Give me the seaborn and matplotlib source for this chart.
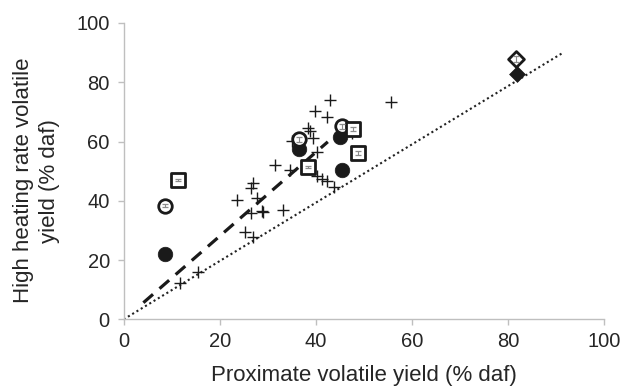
import matplotlib
matplotlib.use("Agg")
import matplotlib.pyplot as plt
import seaborn as sns
import pandas as pd

# ---- data ----
cross_x = [11.7, 15.5, 25.3, 27.0, 23.5, 27.7, 26.6, 27.0, 26.6, 28.7, 29.1, 33.2,
           31.5, 34.6, 35.0, 40.2, 39.5, 38.4, 38.8, 39.8, 42.3, 43.0, 40.3, 41.3,
           42.3, 43.8, 55.6, 47.5]
cross_y = [12.2, 16.1, 29.3, 27.9, 40.1, 41.0, 44.3, 46.0, 35.8, 36.7, 36.1, 37.0,
           52.1, 50.3, 60.3, 56.3, 61.1, 64.5, 63.4, 70.2, 68.3, 74.1, 48.3, 47.5,
           46.8, 44.8, 73.2, 63.0]

fcirc_x = [8.7, 36.5, 45.0, 45.5]
fcirc_y = [22.0, 57.4, 61.5, 50.4]

ocirc_x = [8.7, 36.4, 45.4]
ocirc_y = [38.4, 60.8, 65.1]
ocirc_err = [0.4, 0.8, 0.8]

osq_x = [11.4, 38.4, 47.7, 48.7]
osq_y = [47.1, 51.4, 64.2, 56.1]
osq_err = [0.4, 0.4, 0.8, 0.8]

odia_x = [81.6]
odia_y = [87.9]
odia_err = [1.0]
fdia_x = [81.8]
fdia_y = [82.9]

dash_x = [4.1, 42.5]
dash_y = [5.6, 59.9]

dot_x = [0.0, 91.5]
dot_y = [0.0, 90.0]

x_ticks = [0, 20, 40, 60, 80, 100]
y_ticks = [0, 20, 40, 60, 80, 100]
x_label = "Proximate volatile yield (% daf)"
y_label = "High heating rate volatile\nyield (% daf)"

# ---- plot ----
sns.set_style("white")
plt.rcParams['font.family'] = ['Liberation Sans', 'DejaVu Sans']

fig = plt.figure(figsize=(6.32, 3.89), dpi=100)
ax = fig.add_axes([0.1957, 0.1792, 0.76, 0.7617])

sns.lineplot(x=dot_x, y=dot_y, ax=ax, color='#222222', linewidth=1.5,
             linestyle=(0, (1, 1.4)), zorder=1)
sns.lineplot(x=dash_x, y=dash_y, ax=ax, color='#1a1a1a', linewidth=2.3,
             linestyle=(0, (4, 2.7)), zorder=1)

sns.scatterplot(x=cross_x, y=cross_y, ax=ax, marker='+', s=85, color='#1a1a1a',
                linewidth=1.0, zorder=2)
sns.scatterplot(x=fcirc_x, y=fcirc_y, ax=ax, marker='o', s=110, color='#1a1a1a',
                edgecolor='#1a1a1a', linewidth=0.5, zorder=3)
sns.scatterplot(x=ocirc_x, y=ocirc_y, ax=ax, marker='o', s=95, facecolor='white',
                edgecolor='#1a1a1a', linewidth=2.0, zorder=4)
sns.scatterplot(x=osq_x, y=osq_y, ax=ax, marker='s', s=95, facecolor='white',
                edgecolor='#1a1a1a', linewidth=2.0, zorder=4)
sns.scatterplot(x=odia_x, y=odia_y, ax=ax, marker='D', s=65, facecolor='white',
                edgecolor='#1a1a1a', linewidth=2.0, zorder=4)
sns.scatterplot(x=fdia_x, y=fdia_y, ax=ax, marker='D', s=65, color='#1a1a1a',
                edgecolor='#1a1a1a', linewidth=0.5, zorder=4)

# small error bars visible inside the open markers
for ex, ey, ee in [(ocirc_x, ocirc_y, ocirc_err), (osq_x, osq_y, osq_err),
                   (odia_x, odia_y, odia_err)]:
    ax.errorbar(ex, ey, yerr=ee, fmt='none', ecolor='#8c8c8c', elinewidth=0.8,
                capsize=2.5, capthick=0.9, zorder=5)

ax.set_xlim(0, 100)
ax.set_ylim(0, 100)
ax.set_xticks(x_ticks)
ax.set_yticks(y_ticks)
ax.set_xticklabels([str(t) for t in x_ticks])
ax.set_yticklabels([str(t) for t in y_ticks])

for s in ['top', 'right']:
    ax.spines[s].set_visible(False)
for s in ['left', 'bottom']:
    ax.spines[s].set_color('#bfbfbf')
    ax.spines[s].set_linewidth(1.0)

ax.tick_params(axis='both', which='major', direction='out', length=4, width=1,
               color='#bfbfbf', labelsize=14.5, labelcolor='#262626', pad=5,
               bottom=True, left=True)
ax.tick_params(axis='y', pad=6)
ax.set_xlabel(x_label, fontsize=16, color='#262626', labelpad=10.5)
ax.set_ylabel(y_label, fontsize=16, color='#262626', labelpad=12, linespacing=1.3)
ax.yaxis.label.set_y(0.468)
ax.grid(False)
ax.set_facecolor('white')

fig.savefig("out.png", dpi=100, facecolor='white')
